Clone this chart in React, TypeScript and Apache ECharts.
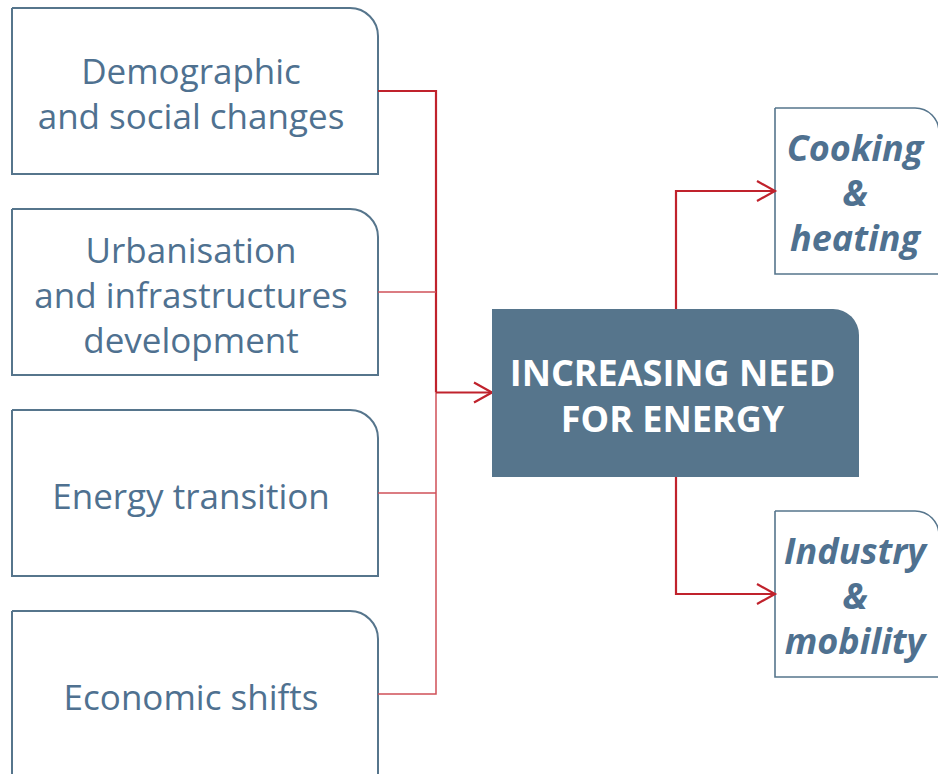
import React, { useEffect, useRef } from "react";
import * as echarts from "echarts";

// Diagram content
const causes: string[] = [
  "Demographic\nand social changes",
  "Urbanisation\nand infrastructures\ndevelopment",
  "Energy transition",
  "Economic shifts",
];
const centerTitle = "INCREASING NEED\nFOR ENERGY";
const outcomes: string[] = ["Cooking\n&\nheating", "Industry\n&\nmobility"];

const BLUE = "#56758c";
const TEXT_BLUE = "#4f7190";
const RED = "#c0222c";
const RED_LIGHT = "#cf5058";
const FONT = "'Open Sans', 'Noto Sans', sans-serif";

function arrowHead(tipX: number, tipY: number, color: string) {
  return {
    type: "polyline",
    shape: { points: [[tipX - 18, tipY - 10], [tipX, tipY], [tipX - 18, tipY + 10]] },
    style: { stroke: color, lineWidth: 2.2, fill: null },
  };
}

function seg(pts: number[][], color: string, w: number) {
  return {
    type: "polyline",
    shape: { points: pts },
    style: { stroke: color, lineWidth: w, fill: null },
  };
}

export default function App() {
  const ref = useRef<HTMLDivElement>(null);
  useEffect(() => {
    if (!ref.current) return;
    const chart = echarts.init(ref.current, null, { renderer: "svg" });
    const elements: any[] = [];

    const boxX = 12, boxW = 366, boxH = 166, gap = 201, top0 = 8;
    const busX = 436;
    const mainX = 492, mainY = 309, mainW = 367, mainH = 168;
    const arrowY = mainY + mainH / 2 - 0.5;

    causes.forEach((label, i) => {
      const y = top0 + i * gap;
      elements.push({
        type: "rect",
        shape: { x: boxX, y, width: boxW, height: boxH, r: [0, 28, 0, 0] },
        style: { fill: "#ffffff", stroke: BLUE, lineWidth: 2 },
      });
      elements.push({
        type: "text",
        x: boxX + boxW / 2 - 4,
        y: y + boxH / 2 + 2,
        style: {
          text: label,
          align: "center",
          verticalAlign: "middle",
          fontFamily: FONT,
          fontSize: 35,
          lineHeight: 45,
          fill: TEXT_BLUE,
        },
      });
    });

    const cy = causes.map((_, i) => top0 + i * gap + boxH / 2);
    elements.push(seg([[boxX + boxW, cy[0]], [busX, cy[0]], [busX, arrowY]], RED, 2.2));
    elements.push(seg([[busX, arrowY], [busX, cy[3]], [boxX + boxW, cy[3]]], RED_LIGHT, 1.5));
    elements.push(seg([[boxX + boxW, cy[1]], [busX, cy[1]]], RED_LIGHT, 1.3));
    elements.push(seg([[boxX + boxW, cy[2]], [busX, cy[2]]], RED_LIGHT, 1.3));
    elements.push(seg([[busX, arrowY], [mainX, arrowY]], RED, 2.2));
    elements.push(arrowHead(mainX, arrowY, RED));

    elements.push({
      type: "rect",
      shape: { x: mainX, y: mainY, width: mainW, height: mainH, r: [0, 26, 0, 0] },
      style: { fill: BLUE },
    });
    elements.push({
      type: "text",
      x: mainX + mainW / 2 - 3,
      y: mainY + mainH / 2 + 2,
      style: {
        text: centerTitle,
        align: "center",
        verticalAlign: "middle",
        fontFamily: FONT,
        fontWeight: "bold",
        fontSize: 36,
        lineHeight: 46,
        fill: "#ffffff",
      },
    });

    const outX = 775, outW = 164, outH = 166;
    const outTops = [108, 511];
    const branchX = 676;
    outcomes.forEach((label, i) => {
      const y = outTops[i];
      const midY = y + outH / 2;
      elements.push({
        type: "rect",
        shape: { x: outX, y, width: outW, height: outH, r: [0, 24, 0, 0] },
        style: { fill: "#ffffff", stroke: BLUE, lineWidth: 1.6 },
      });
      elements.push({
        type: "text",
        x: outX + outW / 2 - 2,
        y: midY + 1,
        style: {
          text: label,
          align: "center",
          verticalAlign: "middle",
          fontFamily: FONT,
          fontWeight: "bold",
          fontStyle: "italic",
          fontSize: 36,
          lineHeight: 45,
          fill: TEXT_BLUE,
        },
      });
      const startY = i === 0 ? mainY : mainY + mainH;
      elements.push(seg([[branchX, startY], [branchX, midY], [outX, midY]], RED, 2.2));
      elements.push(arrowHead(outX, midY, RED));
    });

    chart.setOption({
      animation: false,
      backgroundColor: "#ffffff",
      graphic: { elements },
    });
    return () => chart.dispose();
  }, []);

  return (
    <div
      ref={ref}
      style={{ position: "fixed", left: 0, top: 0, width: 938, height: 774 }}
    />
  );
}
